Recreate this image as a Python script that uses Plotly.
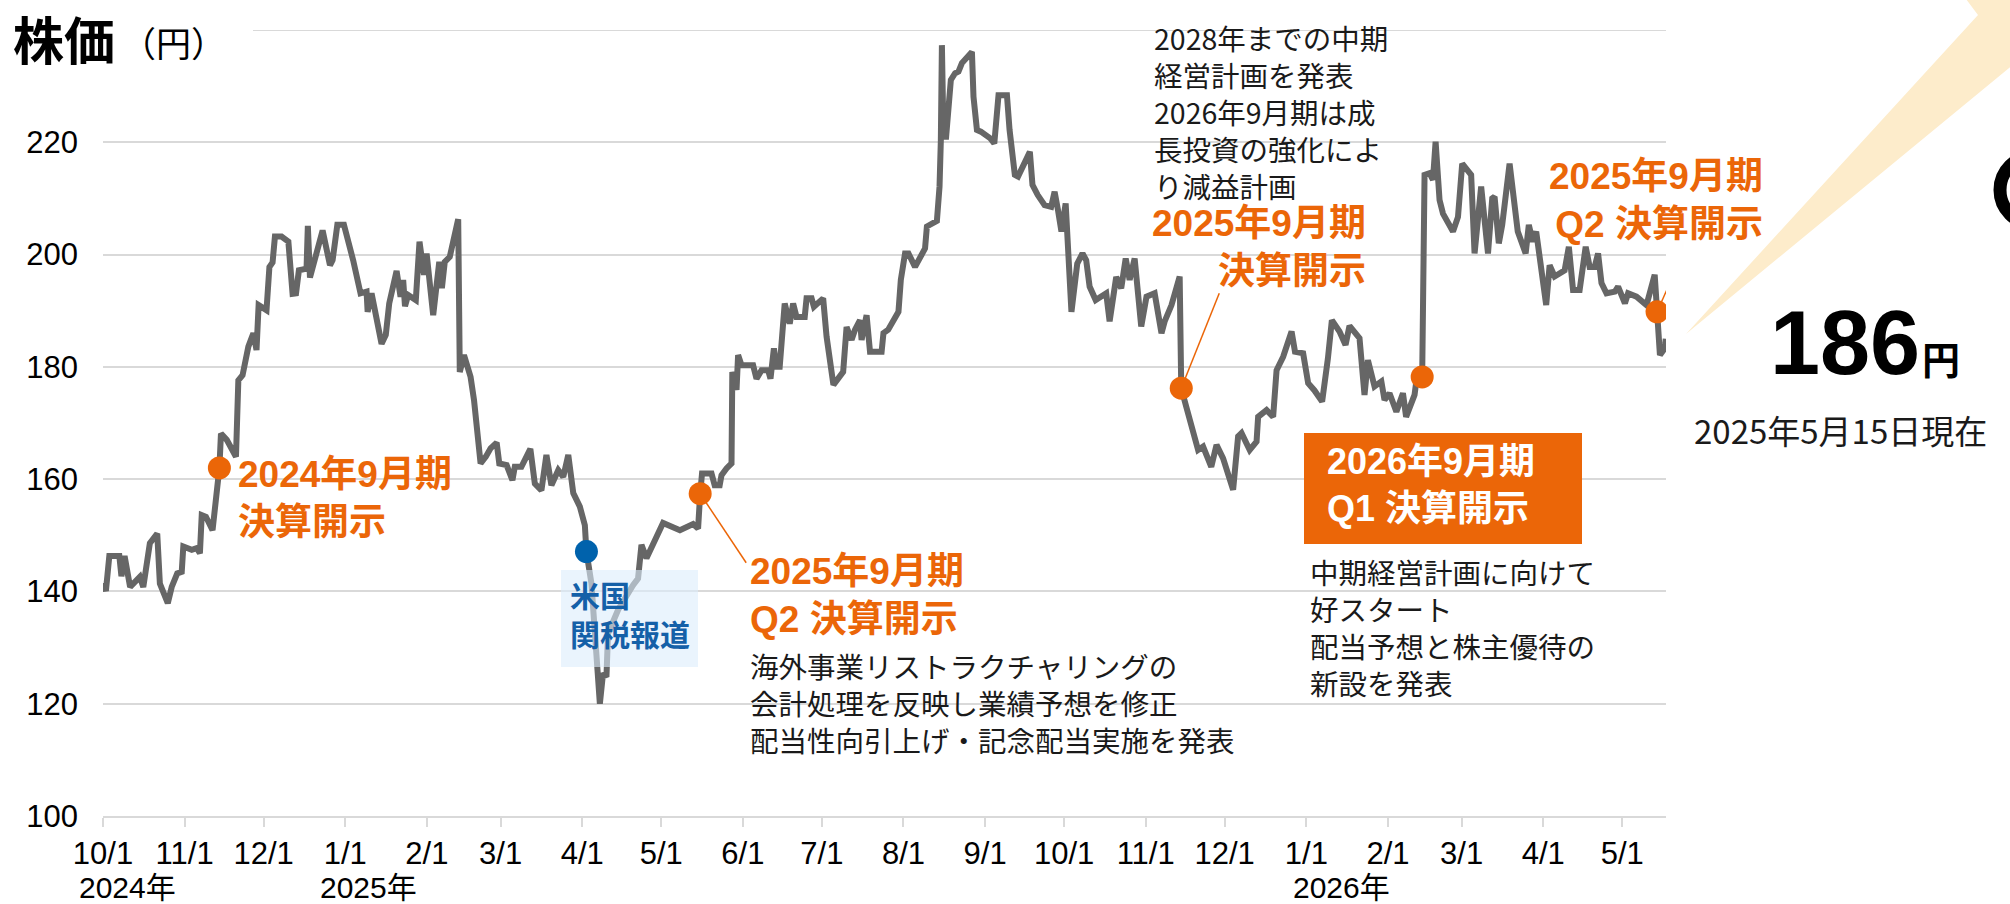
import pandas as pd
import plotly.graph_objects as go

# ---------------- data ----------------
BASE_DATE = "2024-10-01"

day_offsets = [
    0.0, 1.1, 2.4, 6.2, 7.0, 8.2, 10.3, 14.0, 15.3, 17.8, 20.6, 21.6, 24.6, 26.1, 28.2, 29.9,
    30.5, 33.7, 35.6, 36.8, 37.5, 39.1, 41.6, 44.2, 44.8, 47.0, 50.5, 51.4, 53.0, 55.2, 57.1,
    58.3, 59.1, 62.1, 63.2, 64.4, 65.3, 67.8, 70.4, 72.0, 73.3, 74.4, 77.3, 77.8, 78.6, 80.9,
    83.4, 86.2, 87.2, 89.0, 91.5, 95.0, 97.8, 100.1, 100.5, 102.0, 105.8, 107.4, 108.7, 111.5,
    113.0, 114.0, 114.7, 115.9, 118.8, 120.2, 121.9, 122.9, 125.4, 127.7, 128.7, 129.8, 131.7,
    134.9, 135.5, 137.1, 139.6, 140.9, 143.4, 145.4, 147.2, 149.5, 150.5, 153.3, 155.5, 156.4,
    158.9, 162.3, 164.0, 166.5, 168.4, 170.3, 172.9, 174.8, 176.7, 178.6, 181.1, 183.0, 183.6,
    185.5, 187.4, 188.7, 189.9, 191.2, 191.8, 195.6, 201.3, 203.2, 204.5, 206.4, 212.7, 219.1,
    224.1, 226.0, 226.8, 227.5, 231.1, 232.3, 234.2, 234.9, 236.8, 238.7, 239.0, 240.6, 241.2,
    242.5, 246.9, 248.2, 250.1, 252.6, 253.5, 254.8, 255.8, 257.0, 258.9, 260.8, 262.1, 263.4,
    266.5, 267.2, 269.1, 270.0, 273.5, 274.8, 277.4, 279.3, 281.1, 282.4, 284.3, 285.6, 287.5,
    288.1, 290.0, 291.3, 295.7, 296.4, 298.2, 302.1, 303.0, 304.6, 305.9, 308.4, 311.0, 312.2,
    312.9, 316.7, 317.7, 318.2, 318.6, 319.2, 320.2, 322.0, 323.6, 324.9, 326.2, 330.0, 330.6,
    331.9, 333.4, 337.0, 338.5, 340.1, 343.3, 344.3, 346.3, 347.5, 352.0, 353.0, 355.0, 357.6,
    360.1, 361.4, 362.7, 364.0, 365.6, 367.8, 370.0, 372.0, 373.4, 374.7, 377.0, 379.7, 381.0,
    382.3, 384.8, 386.7, 388.4, 389.9, 391.8, 394.3, 396.3, 399.4, 402.0, 403.2, 405.8, 408.9,
    409.5, 411.4, 414.6, 415.9, 417.8, 420.9, 422.9, 425.4, 429.2, 431.1, 432.4, 435.5, 438.1,
    438.7, 441.9, 444.4, 445.7, 448.2, 451.4, 452.7, 455.8, 457.7, 460.1, 463.0, 465.2, 466.7,
    469.6, 471.9, 473.4, 477.2, 479.1, 480.4, 482.9, 485.5, 486.7, 488.6, 491.2, 493.7, 494.9,
    498.1, 499.4, 501.0, 501.9, 503.8, 505.1, 506.1, 507.6, 508.9, 512.7, 514.6, 516.2, 519.6,
    520.9, 523.4, 526.0, 527.6, 528.5, 530.1, 531.4, 534.2, 537.3, 540.3, 541.5, 543.0, 544.3,
    546.2, 548.1, 549.4, 551.3, 555.1, 556.7, 558.3, 560.8, 563.1, 564.6, 566.5, 567.8, 569.1,
    571.0, 574.2, 575.4, 578.0, 579.2, 582.4, 586.2, 589.3, 590.2, 591.3, 593.1, 593.5,
]

prices = [
    141.5, 140.1, 146.3, 146.3, 142.7, 146.3, 140.8, 142.6, 140.8, 148.6, 150.3, 141.4, 137.9, 140.8, 143.2, 143.5,
    148.0, 147.4, 147.7, 146.8, 153.6, 153.3, 150.9, 162.0, 168.1, 167.0, 164.0, 177.6, 178.5, 183.6, 186.0,
    183.0, 191.0, 190.1, 197.8, 198.6, 203.2, 203.2, 202.3, 193.0, 193.1, 197.2, 197.5, 205.1, 195.9, 200.1,
    204.3, 198.1, 199.0, 205.3, 205.3, 199.0, 193.1, 193.4, 189.8, 193.1, 184.1, 185.7, 191.3, 197.1,
    192.5, 195.5, 190.8, 192.8, 191.9, 202.3, 196.4, 200.2, 189.2, 198.7, 194.0, 198.7, 199.6,
    206.3, 179.1, 182.1, 178.2, 174.1, 162.8, 164.0, 165.5, 166.5, 162.8, 162.5, 159.8, 162.2,
    162.2, 165.4, 159.2, 158.0, 164.3, 158.9, 161.6, 160.4, 164.3, 157.5, 155.1, 151.8, 147.1,
    141.4, 126.6, 120.0, 125.4, 124.8, 132.5, 136.7, 141.1, 142.3, 148.3, 145.9, 152.2, 150.9,
    152.0, 151.2, 157.4, 161.0, 161.0, 158.9, 158.9, 160.7, 161.9, 162.8, 179.1, 175.9, 182.1,
    180.3, 180.3, 177.9, 179.4, 179.4, 177.9, 183.3, 180.0, 180.0, 191.3, 187.7, 191.3, 188.9,
    188.9, 192.2, 192.2, 190.7, 192.2, 185.4, 176.8, 177.9, 179.1, 187.1, 184.8, 186.6, 188.3,
    184.8, 189.2, 182.7, 182.7, 186.0, 186.6, 189.8, 195.5, 200.2, 200.2, 197.8, 200.2, 201.1,
    205.0, 206.0, 212.1, 220.4, 237.3, 221.0, 221.0, 231.1, 232.3, 232.6, 234.1, 236.1, 228.1,
    222.2, 221.9, 220.7, 219.8, 228.4, 228.4, 222.2, 214.2, 213.9, 218.3, 212.4, 210.6, 208.8,
    208.5, 211.2, 207.9, 204.1, 209.1, 189.8, 198.4, 200.2, 199.0, 194.3, 191.9, 192.8, 193.1,
    188.1, 196.0, 194.0, 199.3, 195.5, 199.3, 187.2, 192.5, 193.1, 186.0, 188.1, 191.0, 196.1,
    176.2, 172.9, 167.6, 165.2, 165.8, 162.2, 166.1, 163.7, 158.1, 167.6, 168.2, 165.2, 166.7,
    171.1, 172.3, 171.1, 179.4, 181.8, 186.3, 182.7, 182.4, 177.1, 175.8, 173.8, 181.5, 188.3,
    186.3, 183.9, 187.3, 185.1, 175.0, 181.2, 176.5, 177.4, 174.1, 175.3, 172.0, 175.3, 171.1,
    175.0, 179.7, 178.2, 214.2, 214.5, 213.3, 220.1, 209.7, 207.3, 204.1, 206.7, 216.2, 214.2,
    200.2, 212.1, 200.2, 210.0, 210.3, 202.0, 205.3, 216.2, 204.1, 200.2, 205.3, 202.3, 204.1,
    197.2, 191.0, 198.1, 196.1, 197.2, 201.4, 193.7, 193.7, 201.4, 197.8, 197.8, 200.2, 194.9,
    193.1, 193.4, 194.3, 191.3, 193.1, 192.5, 191.0, 196.4, 189.8, 182.1, 183.3, 185.0,
]

# event markers (disclosures / news)
event_days = [44.2, 183.6, 226.8, 409.5, 501.0, 590.2]
event_prices = [162.0, 147.1, 157.4, 176.2, 178.2, 189.8]
event_is_news = [False, True, False, False, False, False]

latest_day = 597.2
latest_price = 186.5
latest_value_text = "186"
latest_unit_text = "円"
latest_note_text = "2025年5月15日現在"

x_end_day = 593.6

month_tick_dates = [
    "2024-10-01", "2024-11-01", "2024-12-01", "2025-01-01", "2025-02-01", "2025-03-01",
    "2025-04-01", "2025-05-01", "2025-06-01", "2025-07-01", "2025-08-01", "2025-09-01",
    "2025-10-01", "2025-11-01", "2025-12-01", "2026-01-01", "2026-02-01", "2026-03-01",
    "2026-04-01", "2026-05-01",
]
month_tick_labels = [
    "10/1", "11/1", "12/1", "1/1", "2/1", "3/1", "4/1", "5/1", "6/1", "7/1",
    "8/1", "9/1", "10/1", "11/1", "12/1", "1/1", "2/1", "3/1", "4/1", "5/1",
]
year_label_dates = ["2024-10-01", "2025-01-01", "2026-01-01"]
year_labels = ["2024年", "2025年", "2026年"]

y_tick_values = [100, 120, 140, 160, 180, 200, 220]
y_top = 240

title_main = "株価"
title_unit = "（円）"

label_fy2024 = ["2024年9月期", "決算開示"]
label_tariff = ["米国", "関税報道"]
label_q2_2025 = ["2025年9月期", "Q2 決算開示"]
note_q2_2025 = ["海外事業リストラクチャリングの", "会計処理を反映し業績予想を修正",
                "配当性向引上げ・記念配当実施を発表"]
note_fy2025 = ["2028年までの中期", "経営計画を発表", "2026年9月期は成", "長投資の強化によ", "り減益計画"]
label_fy2025 = ["2025年9月期", "決算開示"]
label_q1_2026 = ["2026年9月期", "Q1 決算開示"]
note_q1_2026 = ["中期経営計画に向けて", "好スタート", "配当予想と株主優待の", "新設を発表"]
label_q2_2026 = ["2025年9月期", "Q2 決算開示"]

# ---------------- styling / layout ----------------
W, H = 2010, 904
L, R, T, B = 103, 344, 30, 88
PW, PH = W - L - R, H - T - B

ORANGE = "#EB6608"
BLUE = "#0062AC"
BLUE_TXT = "#1460A8"
GRAY_LINE = "#666666"
GRID = "#D9D9D9"
BEAM = "#FDECCB"
TXT = "#1A1A1A"
LATIN = "Liberation Sans, Noto Sans CJK JP, sans-serif"
CJK = "Noto Sans CJK JP, sans-serif"


def px(x):
    return (x - L) / PW


def py(y):
    return 1 - (y - T) / PH


base = pd.Timestamp(BASE_DATE)
dates = [base + pd.Timedelta(days=d) for d in day_offsets]
ev_dates = [base + pd.Timedelta(days=d) for d in event_days]
latest_date = base + pd.Timedelta(days=latest_day)

fig = go.Figure()

fig.add_trace(go.Scatter(x=dates, y=prices, mode="lines",
                         line=dict(color=GRAY_LINE, width=6), hoverinfo="skip"))
fig.add_trace(go.Scatter(x=ev_dates, y=event_prices, mode="markers",
                         marker=dict(size=23, color=[BLUE if n else ORANGE for n in event_is_news],
                                     line=dict(width=0)),
                         hoverinfo="skip"))
fig.add_trace(go.Scatter(x=[latest_date], y=[latest_price], mode="markers", cliponaxis=False,
                         marker=dict(size=21, color="#000000"), hoverinfo="skip"))

shapes = []
# top gridline (partly hidden by the title)
shapes.append(dict(type="line", xref="paper", yref="y", x0=px(253), x1=1, y0=y_top, y1=y_top,
                   line=dict(color=GRID, width=2), layer="below"))
# light beam towards the top-right
beam_pts = [(1686, 334), (1978, 15), (1963, -5), (2020, -5), (2020, 59)]
path = "M " + " L ".join(f"{px(a):.5f},{py(b):.5f}" for a, b in beam_pts) + " Z"
shapes.append(dict(type="path", xref="paper", yref="paper", path=path,
                   fillcolor=BEAM, line=dict(width=0), layer="below"))
# partially visible ring at the right edge
cx, cy, rr = 2034, 190, 34
shapes.append(dict(type="circle", xref="paper", yref="paper",
                   x0=px(cx - rr), x1=px(cx + rr), y0=py(cy + rr), y1=py(cy - rr),
                   line=dict(color="#000000", width=13), fillcolor="rgba(0,0,0,0)", layer="above"))
# translucent box behind tariff text
shapes.append(dict(type="rect", xref="paper", yref="paper", x0=px(561), x1=px(698),
                   y0=py(667), y1=py(570), fillcolor="rgba(220,237,252,0.6)",
                   line=dict(width=0), layer="above"))
# orange box for Q1 label
shapes.append(dict(type="rect", xref="paper", yref="paper", x0=px(1304), x1=px(1582),
                   y0=py(544), y1=py(433), fillcolor=ORANGE, line=dict(width=0), layer="above"))
# connector lines from markers to labels
for idx, (dx, dy) in [(2, (46, -69)), (3, (38, 95)), (5, (29, 65))]:
    shapes.append(dict(type="line", xref="x", yref="y", xsizemode="pixel", ysizemode="pixel",
                       xanchor=ev_dates[idx], yanchor=event_prices[idx],
                       x0=0, y0=0, x1=dx, y1=dy, line=dict(color=ORANGE, width=1.5),
                       layer="between"))
fig.update_layout(shapes=shapes)


def add_block(lines, x, yc, size, color, bold=False, anchor="left", family=LATIN):
    text = "<br>".join(f"<b>{t}</b>" if bold else t for t in lines)
    fig.add_annotation(xref="paper", yref="paper", x=px(x), y=py(yc), text=text,
                       showarrow=False, xanchor=anchor, yanchor="middle", align=anchor,
                       borderpad=0,
                       font=dict(size=size, color=color, family=family))


# title
fig.add_annotation(xref="paper", yref="paper", x=px(12), y=py(38), text=f"<b>{title_main}</b>",
                   showarrow=False, xanchor="left", yanchor="middle", borderpad=0,
                   font=dict(size=51, color="#000000", family=CJK))
fig.add_annotation(xref="paper", yref="paper", x=px(120), y=py(41), text=title_unit,
                   showarrow=False, xanchor="left", yanchor="middle", borderpad=0,
                   font=dict(size=35, color="#000000", family=CJK))

add_block(label_fy2024, 237, 498, 37, ORANGE, bold=True)
add_block(label_tariff, 569, 616, 30, BLUE_TXT, bold=True)
add_block(label_q2_2025, 749, 595, 37, ORANGE, bold=True)
add_block(note_q2_2025, 749, 702, 28.5, TXT, family=CJK)
add_block(note_fy2025, 1153, 112, 28.5, TXT, family=CJK)
add_block(label_fy2025, 1367, 247, 37, ORANGE, bold=True, anchor="right")
add_block(label_q1_2026, 1326, 485, 36, "#FFFFFF", bold=True)
add_block(note_q1_2026, 1309, 627, 28.5, TXT, family=CJK)
add_block(label_q2_2026, 1764, 200, 37, ORANGE, bold=True, anchor="right")

# latest price
fig.add_annotation(xref="paper", yref="paper", x=px(1921), y=py(343), text=f"<b>{latest_value_text}</b>",
                   showarrow=False, xanchor="right", yanchor="middle", borderpad=0,
                   font=dict(size=90, color="#000000", family=LATIN))
fig.add_annotation(xref="paper", yref="paper", x=px(1921), y=py(358), text=f"<b>{latest_unit_text}</b>",
                   showarrow=False, xanchor="left", yanchor="middle", borderpad=0,
                   font=dict(size=38, color="#000000", family=CJK))
fig.add_annotation(xref="paper", yref="paper", x=px(1840), y=py(430), text=latest_note_text,
                   showarrow=False, xanchor="center", yanchor="middle", borderpad=0,
                   font=dict(size=33, color=TXT, family=CJK))

# year labels under the month ticks
for d, t, shift in zip(year_label_dates, year_labels, [-25, -26, -14]):
    fig.add_annotation(xref="x", yref="paper", x=d, y=py(887), text=t, showarrow=False,
                       xanchor="left", yanchor="middle", xshift=shift, borderpad=0,
                       font=dict(size=30, color="#000000", family=LATIN))

fig.update_layout(
    width=W, height=H,
    margin=dict(l=L, r=R, t=T, b=B, pad=0),
    plot_bgcolor="white", paper_bgcolor="white",
    showlegend=False,
    xaxis=dict(type="date", range=[base, base + pd.Timedelta(days=x_end_day)],
               tickmode="array", tickvals=month_tick_dates, ticktext=month_tick_labels,
               ticks="outside", ticklen=9, tickwidth=2, tickcolor=GRID,
               showline=True, linecolor=GRID, linewidth=2, showgrid=False, zeroline=False,
               tickfont=dict(size=31, color="#000000", family=LATIN), fixedrange=True),
    yaxis=dict(range=[100, y_top], tickmode="array", tickvals=y_tick_values,
               showgrid=True, gridcolor=GRID, gridwidth=2, zeroline=False, showline=False,
               ticks="", ticklabelstandoff=24,
               tickfont=dict(size=31, color="#000000", family=LATIN), fixedrange=True),
)

fig.write_html("out.html", config={"displayModeBar": False},
               post_script="document.body.style.margin='0';document.body.style.overflow='hidden';")
